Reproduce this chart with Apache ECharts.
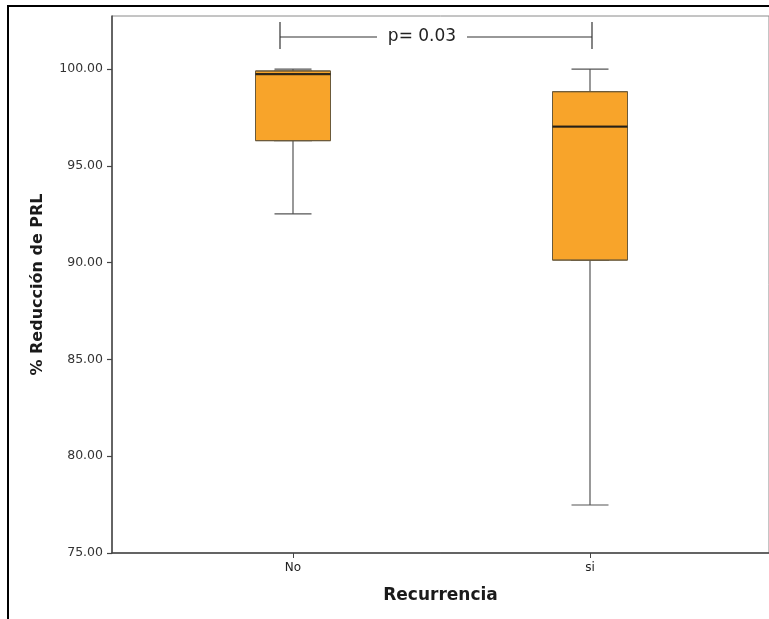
<!DOCTYPE html>
<html>
<head>
<meta charset="utf-8">
<script src="https://cdn.jsdelivr.net/npm/echarts@6/dist/echarts.min.js"></script>
<style>
  html, body { margin: 0; padding: 0; background: #fff; }
  #wrap { position: relative; width: 769px; height: 619px; overflow: hidden; }
  #chart { position: absolute; left: 0; top: 0; width: 769px; height: 619px; }
  #frame { position: absolute; left: 7px; top: 5px; width: 780px; height: 640px;
           border-left: 2px solid #000; border-top: 2px solid #000; pointer-events: none; }
</style>
</head>
<body>
<div id="wrap"><div id="chart"></div><div id="frame"></div></div>
<script>
// ---- data ----
const categories = ['No', 'si'];
const whiskerLow = [92.52, 77.48];
const q1 = [96.30, 90.13];
const median = [99.74, 97.03];
const q3 = [99.90, 98.83];
const whiskerHigh = [100.0, 100.0];
const yTicks = [75, 80, 85, 90, 95, 100];
const yMin = 75;
const yMax = 102.74;
const pLabel = 'p= 0.03';
const xTitle = 'Recurrencia';
const yTitle = '% Reducción de PRL';

// ---- chart ----
const fontFamily = '"DejaVu Sans", sans-serif';
const boxFill = '#F8A42A';
const lineCol = '#555555';

const whiskerData = categories.map((c, i) => [whiskerLow[i], q1[i], median[i], q3[i], whiskerHigh[i]]);
const boxData = categories.map((c, i) => [q1[i], q1[i], median[i], q3[i], q3[i]]);
const medianData = categories.map((c, i) => [c, median[i]]);

const chart = echarts.init(document.getElementById('chart'), null, { renderer: 'canvas' });
chart.setOption({
  animation: false,
  backgroundColor: '#fff',
  textStyle: { fontFamily },
  grid: [
    { left: 112, top: 16, right: -4, bottom: 66, show: true, borderColor: '#8a8a8a', borderWidth: 1, backgroundColor: 'transparent' },
    { left: 144.5, top: 16, right: 30.5, bottom: 66 }
  ],
  xAxis: [
    { gridIndex: 0, type: 'value', min: 0, max: 1,
      axisLine: { show: true, lineStyle: { color: '#444', width: 1.5 } },
      axisTick: { show: false }, axisLabel: { show: false }, splitLine: { show: false },
      name: xTitle, nameLocation: 'middle', nameGap: 34,
      nameTextStyle: { fontFamily, fontSize: 17, fontWeight: 'bold', color: '#1a1a1a' } },
    { gridIndex: 1, type: 'category', data: categories, boundaryGap: true,
      axisLine: { show: false },
      axisTick: { show: true, alignWithLabel: true, length: 5, lineStyle: { color: '#444' } },
      axisLabel: { fontFamily, fontSize: 12, color: '#222', margin: 9 },
      splitLine: { show: false } },
    { gridIndex: 1, type: 'category', data: categories, boundaryGap: true, show: false }
  ],
  yAxis: [
    { gridIndex: 0, type: 'value', min: yMin, max: yMax,
      axisLine: { show: true, lineStyle: { color: '#444', width: 1.5 } },
      axisTick: { show: true, length: 5, customValues: yTicks, lineStyle: { color: '#444', width: 1.2 } },
      axisLabel: { customValues: yTicks, formatter: v => Number(v).toFixed(2), fontFamily, fontSize: 12.5, color: '#333', margin: 9 },
      splitLine: { show: false },
      name: yTitle, nameLocation: 'middle', nameGap: 66, nameRotate: 90,
      nameTextStyle: { fontFamily, fontSize: 16, fontWeight: 'bold', color: '#1a1a1a' } },
    { gridIndex: 1, type: 'value', min: yMin, max: yMax, show: false }
  ],
  series: [
    { type: 'boxplot', xAxisIndex: 1, yAxisIndex: 1, data: whiskerData,
      boxWidth: [37, 37],
      itemStyle: { color: boxFill, borderColor: lineCol, borderWidth: 1.2 },
      emphasis: { disabled: true }, z: 2 },
    { type: 'boxplot', xAxisIndex: 2, yAxisIndex: 1, data: boxData,
      boxWidth: [75, 75],
      itemStyle: { color: boxFill, borderColor: '#6b5a3a', borderWidth: 1 },
      emphasis: { disabled: true }, z: 3 },
    { type: 'scatter', xAxisIndex: 2, yAxisIndex: 1, data: medianData,
      symbol: 'rect', symbolSize: [75, 2.2],
      itemStyle: { color: '#111' }, emphasis: { disabled: true }, z: 4 }
  ],
  graphic: [
    { type: 'line', shape: { x1: 280, y1: 22, x2: 280, y2: 49 }, style: { stroke: '#333', lineWidth: 1.2 } },
    { type: 'line', shape: { x1: 592, y1: 22, x2: 592, y2: 49 }, style: { stroke: '#333', lineWidth: 1.2 } },
    { type: 'line', shape: { x1: 280, y1: 37, x2: 377, y2: 37 }, style: { stroke: '#333', lineWidth: 1.2 } },
    { type: 'line', shape: { x1: 467, y1: 37, x2: 592, y2: 37 }, style: { stroke: '#333', lineWidth: 1.2 } },
    { type: 'text', x: 422, y: 37, style: { text: pLabel, font: '17px "DejaVu Sans", sans-serif', fill: '#222', align: 'center', verticalAlign: 'middle' } }
  ]
});
</script>
</body>
</html>
